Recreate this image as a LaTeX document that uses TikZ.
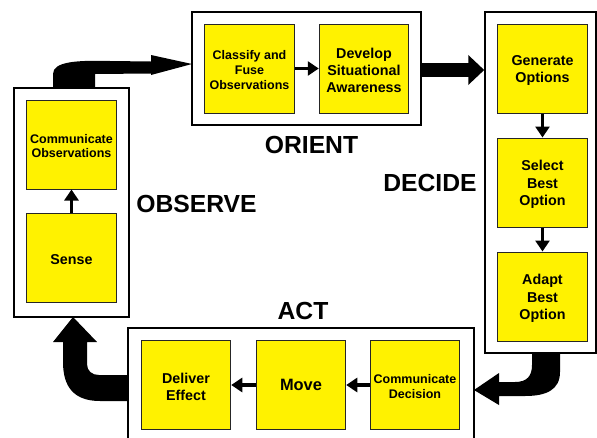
\documentclass[tikz,border=0pt]{standalone}
\usepackage{fontspec}
\setmainfont{Liberation Sans}
\usetikzlibrary{arrows.meta,calc}
\newcommand\mystrutA{\rule{0pt}{14pt}}
\newcommand\mystrutB{\rule{0pt}{12.4pt}}
\begin{document}
\begin{tikzpicture}[x=1pt,y=-1pt,
 outerbox/.style={draw=black, line width=1.5pt, fill=white, inner sep=0pt},
 ybox/.style={draw=black!85, line width=1pt, fill=yellow, inner sep=0pt, minimum width=89.5pt, minimum height=89pt, align=center, font=\fontsize{14.3}{17.2}\selectfont\bfseries},
 ysmall/.style={ybox, font=\fontsize{12.5}{14.7}\selectfont\bfseries},
 ybig/.style={ybox, font=\fontsize{16.4}{19}\selectfont\bfseries},
 phase/.style={font=\fontsize{24.7}{28}\selectfont\bfseries, anchor=base, inner sep=0pt},
 sarrow/.style={line width=3.5pt, -{Triangle[length=11pt,width=14pt]}},
 bigarrow/.style={fill=black, draw=none}]
\useasboundingbox (0,0) rectangle (597,437);
\clip (0,0) rectangle (597,437);
% outer phase boxes
\node[outerbox, minimum width=115pt, minimum height=229pt] (obsbox) at (71.5,202.5) {};
\node[outerbox, minimum width=229pt, minimum height=113pt] (orientbox) at (306.5,68.5) {};
\node[outerbox, minimum width=111pt, minimum height=341pt] (decidebox) at (540.5,182.5) {};
\node[outerbox, minimum width=346pt, minimum height=124pt] (actbox) at (301,390) {};
% inner boxes
\node[ysmall] (commobs) at (71.5,144.5) {\mystrutB Communicate\\Observations};
\node[ybox] (sense) at (71.5,258) {\mystrutA Sense};
\node[ysmall] (classify) at (249.5,68.5) {\mystrutB Classify and\\Fuse\\Observations};
\node[ybox] (develop) at (364,68.5) {\mystrutA Develop\\Situational\\Awareness};
\node[ybox] (generate) at (542.5,68.5) {\mystrutA Generate\\Options};
\node[ybox] (select) at (542.5,182.5) {\mystrutA Select\\Best\\Option};
\node[ybox] (adapt) at (542.5,296.5) {\mystrutA Adapt\\Best\\Option};
\node[ybox] (deliver) at (186,385) {\mystrutA Deliver\\Effect};
\node[ybig] (move) at (301,385) {Move};
\node[ysmall] (commdec) at (415,385) {\mystrutB Communicate\\Decision};
% phase labels
\node[phase] (lobserve) at (196.5,212) {OBSERVE};
\node[phase] (lorient) at (311.5,153) {ORIENT};
\node[phase] (ldecide) at (430,191) {DECIDE};
\node[phase] (lact) at (303,319) {ACT};
% small arrows
\draw[sarrow] (sense) -- (commobs);
\draw[sarrow] (classify) -- (develop);
\draw[sarrow] (generate) -- (select);
\draw[sarrow] (select) -- (adapt);
\draw[sarrow] (commdec) -- (move);
\draw[sarrow] (move) -- (deliver);
% big arrows
\fill[bigarrow] (53,88.5) -- (53,74) .. controls (53,62) and (75,60) .. (110,61) -- (151,61.5) -- (151,55) -- (192,64) -- (151,75) -- (151,73.5) -- (95,74) -- (95,88.5) -- cycle;
\draw[line width=14pt, -{Triangle[length=16pt,width=29pt]}] ([yshift=-1.5pt]orientbox.east) -- ([yshift=-1.5pt]orientbox.east -| decidebox.west);
\fill[bigarrow] (532,353) -- (560,353) -- (560,372) .. controls (560,390) and (546,396) .. (525,396) -- (499,396) -- (499,405) -- (474,390) -- (499,373) -- (499,382) -- (515,382) .. controls (527,382) and (532,376) .. (532,365) -- cycle;
\fill[bigarrow] (128.5,375) -- (99,375) .. controls (92,375) and (87,371) .. (87,364) -- (87,342) -- (97,342) -- (73,317) -- (53,342) -- (63,342) -- (63,362) .. controls (63,388) and (75,401) .. (100,401) -- (128.5,401) -- cycle;
\end{tikzpicture}
\end{document}
